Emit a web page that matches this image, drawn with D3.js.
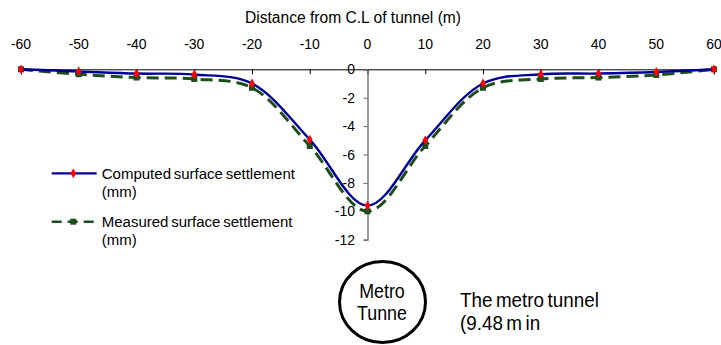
<!DOCTYPE html>
<html><head><meta charset="utf-8">
<script src="https://cdn.jsdelivr.net/npm/d3@7"></script>
<style>
html,body{margin:0;padding:0;background:#fff;}
svg{display:block;font-family:"Liberation Sans",Arial,sans-serif;}
</style></head>
<body><svg id="c" width="721" height="345"></svg>
<script>
const distances = [-60,-50,-40,-30,-20,-10,0,10,20,30,40,50,60];
const computed  = [0,-0.15,-0.3,-0.37,-1.0,-4.95,-9.6,-5.0,-1.0,-0.35,-0.3,-0.19,0];
const measured  = [0,-0.35,-0.58,-0.68,-1.3,-5.4,-10.0,-5.4,-1.3,-0.68,-0.58,-0.4,0];
const xTicks = [-60,-50,-40,-30,-20,-10,0,10,20,30,40,50,60];
const yTicks = [0,-2,-4,-6,-8,-10,-12];
const xTitle = "Distance from C.L of tunnel (m)";
const legendLabels = [["Computed surface settlement","(mm)"],["Measured surface settlement","(mm)"]];
const circleLabel = ["Metro","Tunne"];
const noteLabel = ["The metro tunnel","(9.48 m in"];

const svg = d3.select("#c");
const x = d3.scaleLinear().domain([-60,60]).range([21,714]);
const y = d3.scaleLinear().domain([0,-12]).range([69.3,239.7]);
const blue = "#000096", red = "#ff0000", green = "#1d4d1d";

// title
svg.append("text").attr("x",353).attr("y",23.3).attr("text-anchor","middle")
  .attr("font-size",15.6).attr("fill","#000").text(xTitle);

// x axis
const xa = svg.append("g").attr("transform",`translate(0,${y(0)})`)
  .call(d3.axisBottom(x).tickValues(xTicks).tickSize(5).tickFormat(""));
xa.select(".domain").attr("stroke","#000").attr("stroke-width",1);
xa.selectAll(".tick line").attr("stroke","#000");
svg.append("g").selectAll("text").data(xTicks).join("text")
  .attr("x",d=>x(d)).attr("y",49.3).attr("text-anchor","middle")
  .attr("font-size",14).attr("fill","#000").text(d=>d);

// y axis
const ya = svg.append("g").attr("transform",`translate(${x(0)},0)`)
  .call(d3.axisLeft(y).tickValues(yTicks).tickSize(4).tickFormat(""));
ya.select(".domain").attr("stroke","#666").attr("stroke-width",1.3);
ya.selectAll(".tick line").attr("stroke","#666");
svg.append("g").selectAll("text").data(yTicks).join("text")
  .attr("x",355).attr("y",d=>y(d)+5).attr("text-anchor","end")
  .attr("font-size",14).attr("fill","#000").text(d=>d);

const line = d3.line().curve(d3.curveCatmullRom.alpha(0.5)).x(d=>x(d[0])).y(d=>y(d[1]));
const mData = distances.map((d,i)=>[d,measured[i]]);
const cData = distances.map((d,i)=>[d,computed[i]]);

svg.append("path").datum(mData).attr("d",line).attr("fill","none")
  .attr("stroke",green).attr("stroke-width",3).attr("stroke-dasharray","12,6");
svg.append("g").selectAll("rect").data(mData).join("rect")
  .attr("x",d=>x(d[0])-3).attr("y",d=>y(d[1])-3).attr("width",6).attr("height",6).attr("fill",green);

svg.append("path").datum(cData).attr("d",line).attr("fill","none")
  .attr("stroke",blue).attr("stroke-width",2.4);
const diamond = d3.symbol().type(d3.symbolDiamond).size(28);
svg.append("g").selectAll("path").data(cData).join("path")
  .attr("transform",d=>`translate(${x(d[0])},${y(d[1])})`).attr("d",diamond).attr("fill",red);

// legend
const lg = svg.append("g");
const ly = [173.3,221.7];
lg.append("line").attr("x1",51.7).attr("x2",96.7).attr("y1",ly[0]).attr("y2",ly[0]).attr("stroke",blue).attr("stroke-width",2.2);
lg.append("path").attr("transform",`translate(73.3,${ly[0]})`).attr("d",diamond).attr("fill",red);
lg.append("line").attr("x1",51.7).attr("x2",96.7).attr("y1",ly[1]).attr("y2",ly[1]).attr("stroke",green).attr("stroke-width",2.6).attr("stroke-dasharray","10,6");
lg.append("rect").attr("x",70.3).attr("y",ly[1]-3).attr("width",6).attr("height",6).attr("fill",green);
legendLabels.forEach((lab,i)=>{
  const t = lg.append("text").attr("font-size",15.5).attr("fill","#000")
    .attr("transform",`translate(101.7,0) scale(0.97,1)`);
  t.append("tspan").attr("x",0).attr("y",ly[i]+5.3).attr("word-spacing",-1.5).text(lab[0]);
  t.append("tspan").attr("x",0).attr("y",ly[i]+23.5).text(lab[1]);
});

// tunnel circle
svg.append("ellipse").attr("cx",x(0)+15).attr("cy",302).attr("rx",43).attr("ry",40.5)
  .attr("fill","none").attr("stroke","#000").attr("stroke-width",3);
const ct = svg.append("text").attr("font-size",20.5).attr("fill","#000").attr("text-anchor","middle")
  .attr("transform",`translate(${x(0)+14.5},0) scale(0.87,1)`);
ct.append("tspan").attr("x",0).attr("y",298.3).text(circleLabel[0]);
ct.append("tspan").attr("x",0).attr("y",320).text(circleLabel[1]);

const nt = svg.append("text").attr("font-size",20.5).attr("fill","#000")
  .attr("transform",`translate(460,0) scale(0.92,1)`);
nt.append("tspan").attr("x",0).attr("y",306.7).attr("word-spacing",-2).text(noteLabel[0]);
nt.append("tspan").attr("x",0).attr("y",330).attr("word-spacing",-2).text(noteLabel[1]);
</script></body></html>
